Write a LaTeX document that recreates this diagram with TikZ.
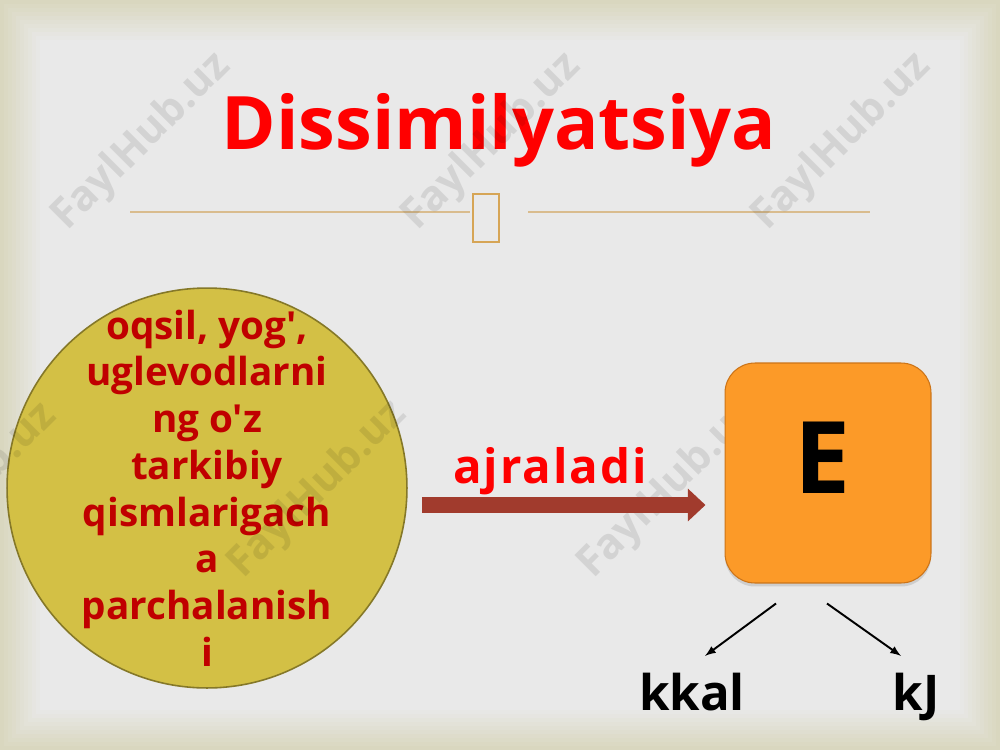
\documentclass[tikz,border=0pt]{standalone}
\usepackage{fontspec}
\setmainfont{Open Sans}[Ligatures=TeXOff]
\usetikzlibrary{arrows.meta,calc,shadows}

\definecolor{pagegrey}{HTML}{E9E9E9}
\definecolor{pageedge}{HTML}{D9D7BF}
\definecolor{titlered}{HTML}{FF0000}
\definecolor{darkred}{HTML}{C00000}
\definecolor{olive}{HTML}{D3C045}
\definecolor{olivedark}{HTML}{857828}
\definecolor{arrowred}{HTML}{A13B2D}
\definecolor{ruletan}{HTML}{D9BC8E}
\definecolor{glyphtan}{HTML}{D6A556}
\definecolor{boxorange}{HTML}{FC9A28}
\definecolor{boxedge}{HTML}{CC7418}

\begin{document}
\begin{tikzpicture}[x=0.02cm,y=-0.02cm,>=latex,thick,
  headline/.style={text=titlered,font=\bfseries\fontsize{42}{50}\selectfont},
  stamp/.style={text=black,text opacity=0.09,rotate=45,font=\bfseries\fontsize{24}{24}\selectfont},
  unit/.style={inner sep=0,font=\bfseries\fontsize{28}{32}\selectfont}]
\clip (0,0) rectangle (1000,750);
% page with a soft edge
\foreach \p in {0,10,...,100}
  \fill[pagegrey!\p!pageedge] (0.4*\p,0.4*\p) rectangle (1000-0.4*\p,750-0.4*\p);
% title and rule
\node[headline,anchor=base] (title) at (499,149) {Dissimilyatsiya};
\draw[ruletan,line width=1pt] (130,212) -- (470,212);
\draw[ruletan,line width=1pt] (528,212) -- (870,212);
\draw[glyphtan,line width=1.6pt] (473,194) rectangle (499,242);
% the circle
\node[circle,draw=olivedark,line width=0.9pt,fill=olive,minimum size=8cm,inner sep=0] (parts) at (207,488) {};
\node[align=center,text=darkred,font=\bfseries\fontsize{22}{26.6}\selectfont] (partstext) at (parts) {oqsil, yog',\\uglevodlarni\\ng o'z\\tarkibiy\\qismlarigach\\a\\parchalanish\\i};
% watermarks
\foreach \x/\y in {142/142,492/142,842/142,-32/492,318/490,668/490}
  \node[stamp] at (\x,\y) {FaylHub.uz};
% energy box
\node[rounded corners=17pt,minimum width=4.12cm,minimum height=4.4cm,draw=boxedge,line width=0.6pt,
  fill=boxorange,drop shadow={opacity=0.25,shadow xshift=0pt,shadow yshift=-2pt}] (energy) at (828,473) {};
\node[font=\bfseries\fontsize{57}{60}\selectfont,anchor=base] (E) at (823,493) {E};
% arrow
\draw[arrowred,line width=9pt,-{Triangle[width=18pt,length=10pt]}] ($(parts.east)+(14,17)$) -- ($(energy.west)+(-19,32)$);
\node[text=titlered,anchor=base,font=\bfseries\fontsize{27}{30}\selectfont\addfontfeature{LetterSpace=4}] (verb) at (550,483) {ajraladi};
% units
\node[unit,anchor=base] (kkal) at (692,710) {kkal};
\node[unit,anchor=base] (kJ) at (916,710) {kJ};
\draw[->,line width=1.1pt] ($(energy.south)+(-52,20)$) -- ($(kkal.north)+(13,-16)$);
\draw[->,line width=1.1pt] ($(energy.south)+(-1,20)$) -- ($(kJ.north)+(-15,-16)$);
\end{tikzpicture}
\end{document}
